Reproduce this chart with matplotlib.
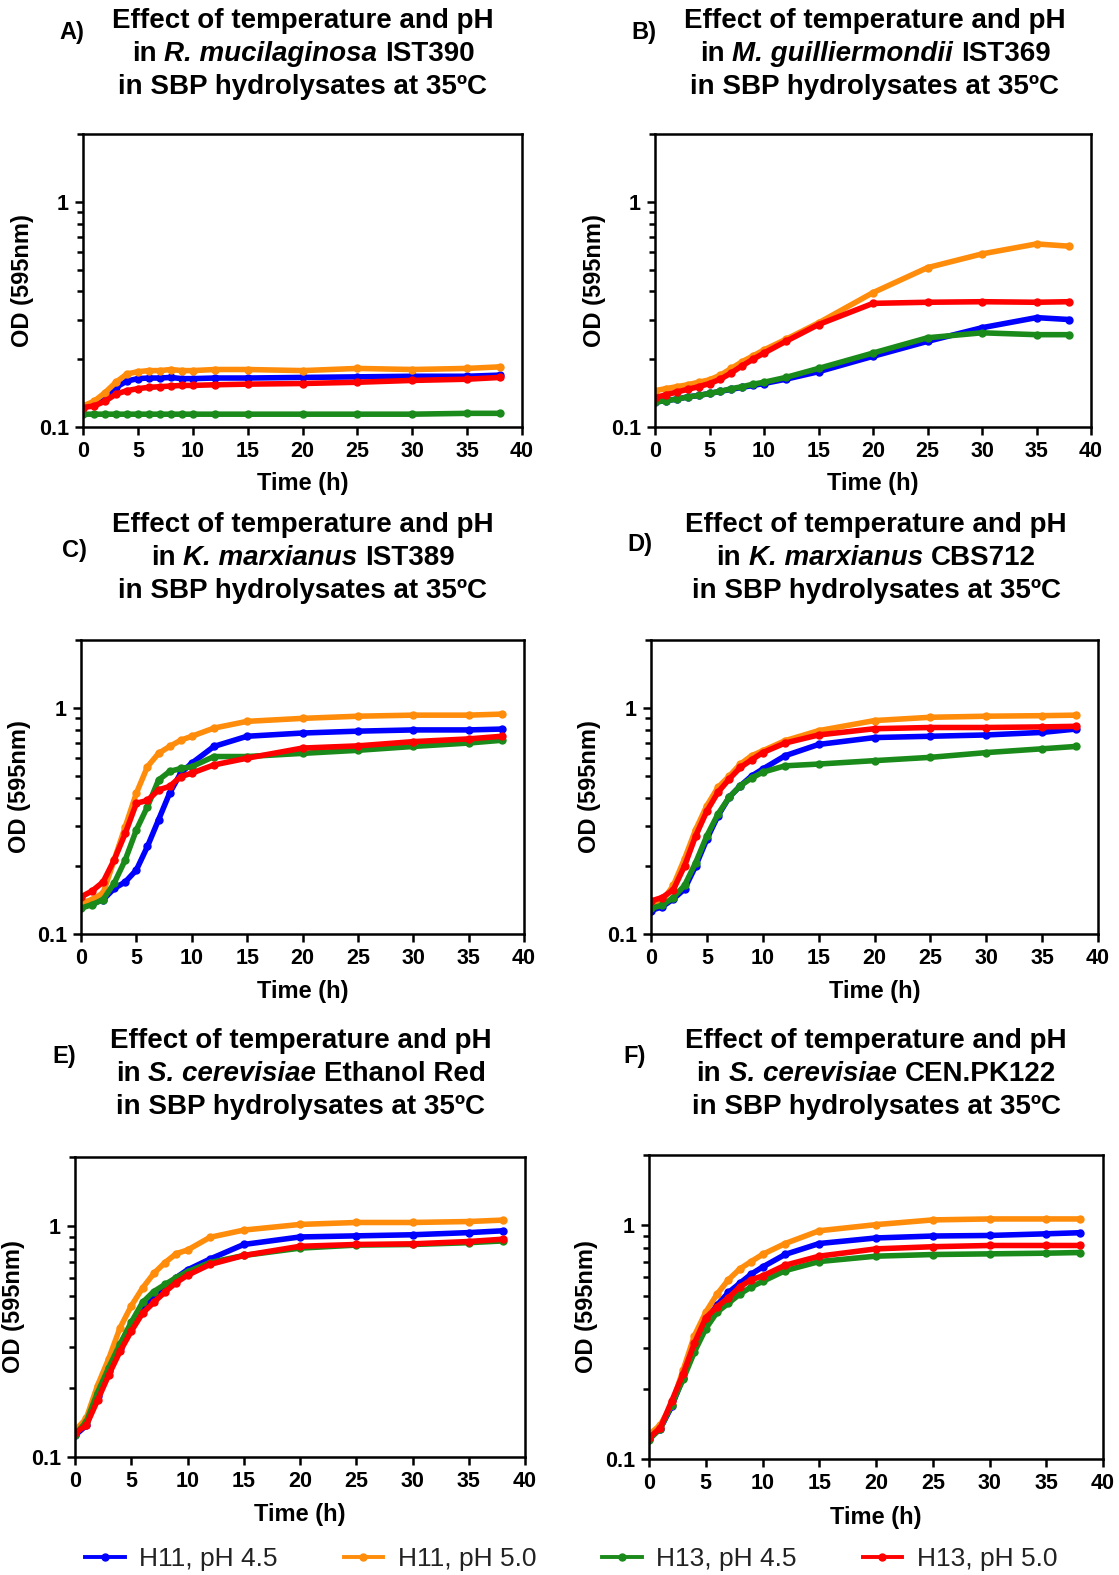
import matplotlib
matplotlib.use("Agg")
import matplotlib.pyplot as plt
from matplotlib.lines import Line2D
from matplotlib.ticker import FixedLocator, FixedFormatter, LogLocator, NullFormatter

plt.rcParams['font.family'] = ['Liberation Sans', 'DejaVu Sans']

W, H = 1119, 1575

# sampling times (h)
t = [0, 1, 2, 3, 4, 5, 6, 7, 8, 9, 10, 12, 15, 20, 25, 30, 35, 38]

series_names = ['H11, pH 4.5', 'H11, pH 5.0', 'H13, pH 4.5', 'H13, pH 5.0']
series_colors = ['#0000ff', '#ff8c0a', '#1a8a1a', '#ff0000']

# A) R. mucilaginosa IST390
a_h11_45 = [0.122, 0.127, 0.135, 0.150, 0.160, 0.164, 0.165, 0.165, 0.166, 0.164, 0.164, 0.165, 0.165, 0.166, 0.167, 0.168, 0.168, 0.170]
a_h11_50 = [0.124, 0.130, 0.142, 0.158, 0.172, 0.176, 0.178, 0.178, 0.180, 0.178, 0.178, 0.180, 0.180, 0.178, 0.182, 0.180, 0.182, 0.185]
a_h13_45 = [0.114, 0.114, 0.114, 0.114, 0.114, 0.114, 0.114, 0.114, 0.114, 0.114, 0.114, 0.114, 0.114, 0.114, 0.114, 0.114, 0.115, 0.115]
a_h13_50 = [0.122, 0.124, 0.130, 0.140, 0.145, 0.148, 0.150, 0.151, 0.152, 0.153, 0.153, 0.154, 0.155, 0.156, 0.158, 0.161, 0.163, 0.166]

# B) M. guilliermondii IST369
b_h11_45 = [0.129, 0.131, 0.133, 0.136, 0.138, 0.141, 0.144, 0.147, 0.150, 0.153, 0.156, 0.163, 0.176, 0.206, 0.240, 0.276, 0.306, 0.300]
b_h11_50 = [0.145, 0.148, 0.151, 0.154, 0.158, 0.162, 0.170, 0.182, 0.195, 0.207, 0.220, 0.245, 0.290, 0.395, 0.510, 0.587, 0.650, 0.635]
b_h13_45 = [0.129, 0.131, 0.133, 0.136, 0.138, 0.141, 0.144, 0.148, 0.151, 0.155, 0.158, 0.166, 0.182, 0.213, 0.249, 0.262, 0.257, 0.257]
b_h13_50 = [0.135, 0.139, 0.143, 0.147, 0.151, 0.156, 0.163, 0.174, 0.187, 0.200, 0.213, 0.240, 0.285, 0.354, 0.358, 0.360, 0.358, 0.360]

# C) K. marxianus IST389
c_h11_45 = [0.131, 0.136, 0.142, 0.159, 0.170, 0.192, 0.244, 0.320, 0.420, 0.515, 0.570, 0.676, 0.750, 0.775, 0.790, 0.800, 0.800, 0.807]
c_h11_50 = [0.137, 0.142, 0.152, 0.213, 0.299, 0.420, 0.550, 0.630, 0.676, 0.720, 0.750, 0.815, 0.873, 0.900, 0.920, 0.930, 0.930, 0.940]
c_h13_45 = [0.130, 0.135, 0.142, 0.168, 0.213, 0.289, 0.366, 0.480, 0.524, 0.540, 0.550, 0.610, 0.610, 0.630, 0.650, 0.676, 0.700, 0.720]
c_h13_50 = [0.146, 0.155, 0.170, 0.213, 0.279, 0.379, 0.390, 0.434, 0.450, 0.497, 0.515, 0.560, 0.600, 0.665, 0.680, 0.710, 0.730, 0.750]

# D) K. marxianus CBS712
d_h11_45 = [0.127, 0.132, 0.143, 0.158, 0.200, 0.263, 0.334, 0.403, 0.453, 0.500, 0.537, 0.615, 0.690, 0.740, 0.750, 0.760, 0.780, 0.807]
d_h11_50 = [0.136, 0.140, 0.164, 0.215, 0.290, 0.370, 0.446, 0.500, 0.565, 0.615, 0.647, 0.717, 0.794, 0.880, 0.910, 0.920, 0.925, 0.930]
d_h13_45 = [0.130, 0.134, 0.145, 0.164, 0.207, 0.272, 0.340, 0.403, 0.453, 0.490, 0.520, 0.555, 0.565, 0.585, 0.605, 0.635, 0.660, 0.676]
d_h13_50 = [0.140, 0.145, 0.157, 0.200, 0.272, 0.350, 0.424, 0.485, 0.546, 0.590, 0.635, 0.700, 0.760, 0.810, 0.820, 0.820, 0.825, 0.830]

# E) S. cerevisiae Ethanol Red
e_h11_45 = [0.124, 0.137, 0.183, 0.236, 0.298, 0.370, 0.435, 0.494, 0.540, 0.600, 0.648, 0.722, 0.835, 0.900, 0.910, 0.920, 0.940, 0.957]
e_h11_50 = [0.130, 0.147, 0.204, 0.267, 0.363, 0.452, 0.540, 0.625, 0.697, 0.762, 0.790, 0.897, 0.964, 1.020, 1.040, 1.040, 1.050, 1.065]
e_h13_45 = [0.125, 0.142, 0.190, 0.244, 0.309, 0.384, 0.468, 0.522, 0.560, 0.600, 0.636, 0.697, 0.748, 0.805, 0.830, 0.835, 0.850, 0.865]
e_h13_50 = [0.127, 0.137, 0.176, 0.227, 0.287, 0.351, 0.420, 0.468, 0.520, 0.571, 0.614, 0.684, 0.748, 0.820, 0.835, 0.840, 0.860, 0.880]

# F) S. cerevisiae CEN.PK122
f_h11_45 = [0.122, 0.135, 0.168, 0.223, 0.308, 0.395, 0.456, 0.516, 0.565, 0.618, 0.663, 0.751, 0.836, 0.883, 0.900, 0.905, 0.920, 0.930]
f_h11_50 = [0.127, 0.140, 0.171, 0.240, 0.337, 0.425, 0.508, 0.585, 0.651, 0.700, 0.751, 0.836, 0.948, 1.007, 1.055, 1.065, 1.065, 1.065]
f_h13_45 = [0.121, 0.135, 0.171, 0.219, 0.287, 0.361, 0.425, 0.464, 0.508, 0.545, 0.575, 0.640, 0.700, 0.738, 0.750, 0.755, 0.760, 0.765]
f_h13_50 = [0.123, 0.136, 0.177, 0.231, 0.313, 0.402, 0.448, 0.490, 0.545, 0.585, 0.607, 0.675, 0.738, 0.793, 0.810, 0.820, 0.820, 0.820]

panel_letters = ['A)', 'B)', 'C)', 'D)', 'E)', 'F)']
species = ['R. mucilaginosa', 'M. guilliermondii', 'K. marxianus', 'K. marxianus', 'S. cerevisiae', 'S. cerevisiae']
strains = ['IST390', 'IST369', 'IST389', 'CBS712', 'Ethanol Red', 'CEN.PK122']
panel_data = [
    [a_h11_45, a_h11_50, a_h13_45, a_h13_50],
    [b_h11_45, b_h11_50, b_h13_45, b_h13_50],
    [c_h11_45, c_h11_50, c_h13_45, c_h13_50],
    [d_h11_45, d_h11_50, d_h13_45, d_h13_50],
    [e_h11_45, e_h11_50, e_h13_45, e_h13_50],
    [f_h11_45, f_h11_50, f_h13_45, f_h13_50],
]

# layout in pixels: axes (left, top, right, bottom), title centre x / first line y, letter pos
axes_px = [(83, 134, 522, 427), (655, 134, 1091, 427),
           (81, 640, 524, 934), (651, 640, 1098, 934),
           (75, 1157, 525, 1457), (649, 1155, 1103, 1459)]
title_px = [(303, 21), (875, 21), (303, 525), (876, 525), (301, 1041), (876, 1041)]
letter_px = [(72, 33), (644, 33), (74, 550), (640, 544), (64, 1057), (635, 1057)]
line_gap = 33

fig = plt.figure(figsize=(W / 100, H / 100), dpi=100)
renderer = fig.canvas.get_renderer()


def fx(x):
    return x / W


def fy(y):
    return 1 - y / H


def text_width(s, **kw):
    tt = fig.text(0, 0, s, **kw)
    w = tt.get_window_extent(renderer).width
    tt.remove()
    return w


def draw_title(cx, y0, sp, strain):
    kw = dict(fontsize=20, fontweight='bold', va='center')
    fig.text(fx(cx), fy(y0), 'Effect of temperature and pH', ha='center', **kw)
    fig.text(fx(cx), fy(y0 + 2 * line_gap), 'in SBP hydrolysates at 35\u00baC', ha='center', **kw)
    # middle line with italic species name
    gap = text_width('a a', **kw) - text_width('aa', **kw)
    w1 = text_width('in', **kw)
    w2 = text_width(sp, style='italic', **kw)
    w3 = text_width(strain, **kw)
    total = w1 + w2 + w3 + 2 * gap
    x = cx - total / 2
    yy = fy(y0 + line_gap)
    fig.text(fx(x), yy, 'in', ha='left', **kw)
    x += w1 + gap
    fig.text(fx(x), yy, sp, ha='left', style='italic', **kw)
    x += w2 + gap
    fig.text(fx(x), yy, strain, ha='left', **kw)


for i in range(6):
    l, tp, r, b = axes_px[i]
    ax = fig.add_axes([fx(l), fy(b), (r - l) / W, (b - tp) / H])
    for vals, c in zip(panel_data[i], series_colors):
        ax.plot(t, vals, color=c, lw=4, marker='o', ms=5, solid_joinstyle='round')
    ax.set_yscale('log')
    ax.set_xlim(0, 40)
    ax.set_ylim(0.1, 2.0)
    ax.set_xticks(range(0, 41, 5))
    ax.yaxis.set_major_locator(FixedLocator([0.1, 1]))
    ax.yaxis.set_major_formatter(FixedFormatter(['0.1', '1']))
    ax.yaxis.set_minor_locator(LogLocator(base=10, subs=[2, 3, 4, 5, 6, 7, 8, 9]))
    ax.yaxis.set_minor_formatter(NullFormatter())
    for s in ax.spines.values():
        s.set_linewidth(1.8)
    ax.tick_params(axis='both', which='major', direction='out', length=6, width=1.8,
                   labelsize=15.5, pad=4)
    ax.tick_params(axis='y', which='minor', direction='out', length=4, width=1.8)
    for lab in ax.get_xticklabels() + ax.get_yticklabels():
        lab.set_fontweight('bold')
    ax.set_xlabel('Time (h)', fontsize=17, fontweight='bold')
    ax.set_ylabel('OD (595nm)', fontsize=17, fontweight='bold')
    ax.xaxis.set_label_coords(0.5, -0.155)
    ax.yaxis.set_label_coords(-0.112, 0.5)

    draw_title(title_px[i][0], title_px[i][1], species[i], strains[i])
    fig.text(fx(letter_px[i][0]), fy(letter_px[i][1]), panel_letters[i],
             fontsize=17, fontweight='bold', ha='center', va='center')

handles = [Line2D([], [], color=c, lw=2.8, marker='o', ms=5) for c in series_colors]
fig.legend(handles, series_names, loc='center left', bbox_to_anchor=(fx(85), fy(1559)),
           ncol=4, frameon=False, fontsize=19, handlelength=1.5, handletextpad=0.55,
           columnspacing=2.5, borderpad=0, borderaxespad=0, numpoints=1,
           labelcolor='#222222')

fig.savefig('out.png', dpi=100)
